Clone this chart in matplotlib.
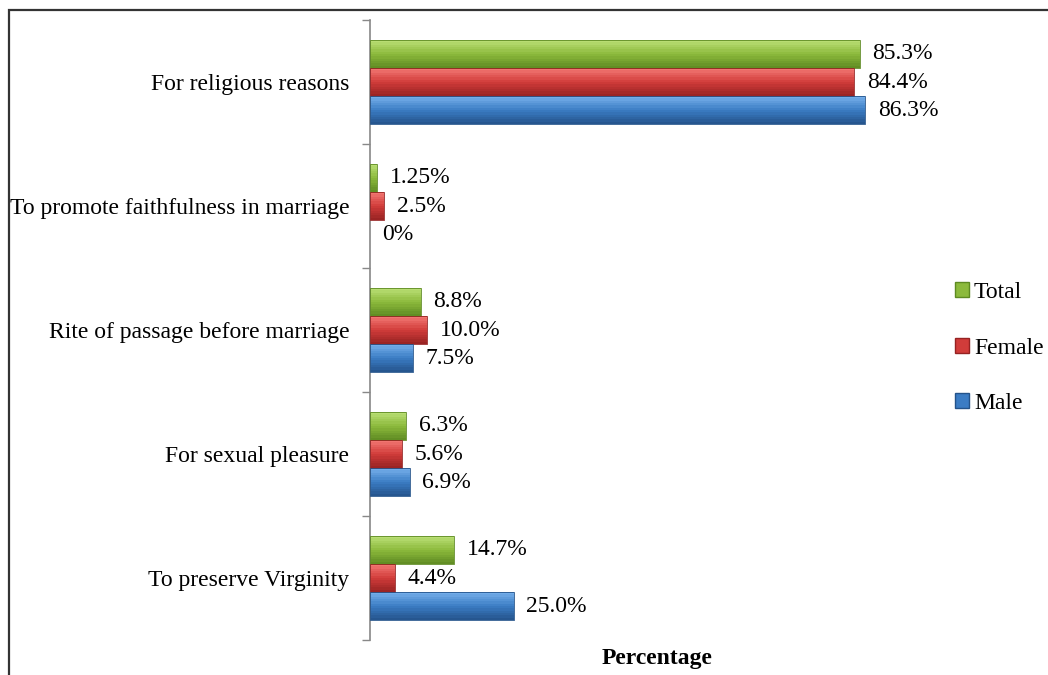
import matplotlib
matplotlib.use('Agg')
import matplotlib.pyplot as plt
from matplotlib.patches import Patch, Rectangle
from matplotlib.colors import to_rgb
import numpy as np

plt.rcParams['font.family'] = ['Liberation Serif', 'DejaVu Serif']

categories = ['For religious reasons',
              'To promote faithfulness in marriage',
              'Rite of passage before marriage',
              'For sexual pleasure',
              'To preserve Virginity']
series_names = ['Total', 'Female', 'Male']
total = [85.3, 1.25, 8.8, 6.3, 14.7]
female = [84.4, 2.5, 10.0, 5.6, 4.4]
male = [86.3, 0.0, 7.5, 6.9, 25.0]
labels_total = ['85.3%', '1.25%', '8.8%', '6.3%', '14.7%']
labels_female = ['84.4%', '2.5%', '10.0%', '5.6%', '4.4%']
labels_male = ['86.3%', '0%', '7.5%', '6.9%', '25.0%']

# main, light, dark
colors = {'Total': ('#8CBA3C', '#BCE078', '#5E8A22'),
          'Female': ('#D13C3A', '#F47A76', '#962222'),
          'Male': ('#3B7CC4', '#78B2EC', '#24538A')}

fig = plt.figure(figsize=(10.48, 6.75), dpi=100)
fig.patches.append(Rectangle((9/1048, -0.1), 1.2, 1.1 - 10/675, transform=fig.transFigure,
                             fill=False, edgecolor='#333333', linewidth=1.6))
ax = fig.add_axes([370/1048, 35/675, (944-370)/1048, (640-20)/675])

y = np.arange(len(categories))
h = 0.226
nstrip = 12
data = [(total, labels_total), (female, labels_female), (male, labels_male)]
for k, (name, (vals, labs)) in enumerate(zip(series_names, data)):
    main, light, dark = colors[name]
    yy = y + (k - 1) * h
    # vertical gradient: light at top, main in middle, dark at bottom
    for i in range(nstrip):
        t = (i + 0.5) / nstrip
        if t < 0.5:
            c = np.array(to_rgb(light)) * (1 - 2 * t) + np.array(to_rgb(main)) * 2 * t
        else:
            c = np.array(to_rgb(main)) * (2 - 2 * t) + np.array(to_rgb(dark)) * (2 * t - 1)
        ax.barh(yy - h / 2 + (i + 0.5) * h / nstrip, vals, height=h / nstrip * 1.1,
                color=c, linewidth=0, zorder=2)
    edges = [dark if v > 0 else 'none' for v in vals]
    ax.barh(yy, vals, height=h, color='none', edgecolor=edges, linewidth=0.6, zorder=3)
    for v, yv, lab in zip(vals, yy, labs):
        ax.annotate(lab, (v, yv), xytext=(9, 0), textcoords='offset points',
                    ha='left', va='center', fontsize=17)

ax.set_xlim(0, 100)
ax.set_ylim(len(categories) - 0.5, -0.5)
ax.set_yticks(y)
ax.set_yticklabels(categories, fontsize=17)
ax.set_yticks(np.arange(len(categories) + 1) - 0.5, minor=True)
ax.tick_params(axis='y', which='major', length=0, pad=15)
ax.tick_params(axis='y', which='minor', length=6, color='#888888', width=1)
ax.set_xticks([])
for s in ['top', 'right', 'bottom']:
    ax.spines[s].set_visible(False)
ax.spines['left'].set_color('#888888')
ax.spines['left'].set_linewidth(1.2)
ax.set_xlabel('Percentage', fontsize=17, fontweight='bold', labelpad=6)

handles = [Patch(facecolor=colors[n][0], edgecolor=colors[n][2]) for n in series_names]
fig.legend(handles, series_names, loc='center left', bbox_to_anchor=(955/1048, 1 - 348/675),
           frameon=False, fontsize=17, handlelength=0.6, handleheight=0.6,
           handletextpad=0.2, labelspacing=1.45, borderpad=0, borderaxespad=0)

fig.savefig('out.png', dpi=100)
